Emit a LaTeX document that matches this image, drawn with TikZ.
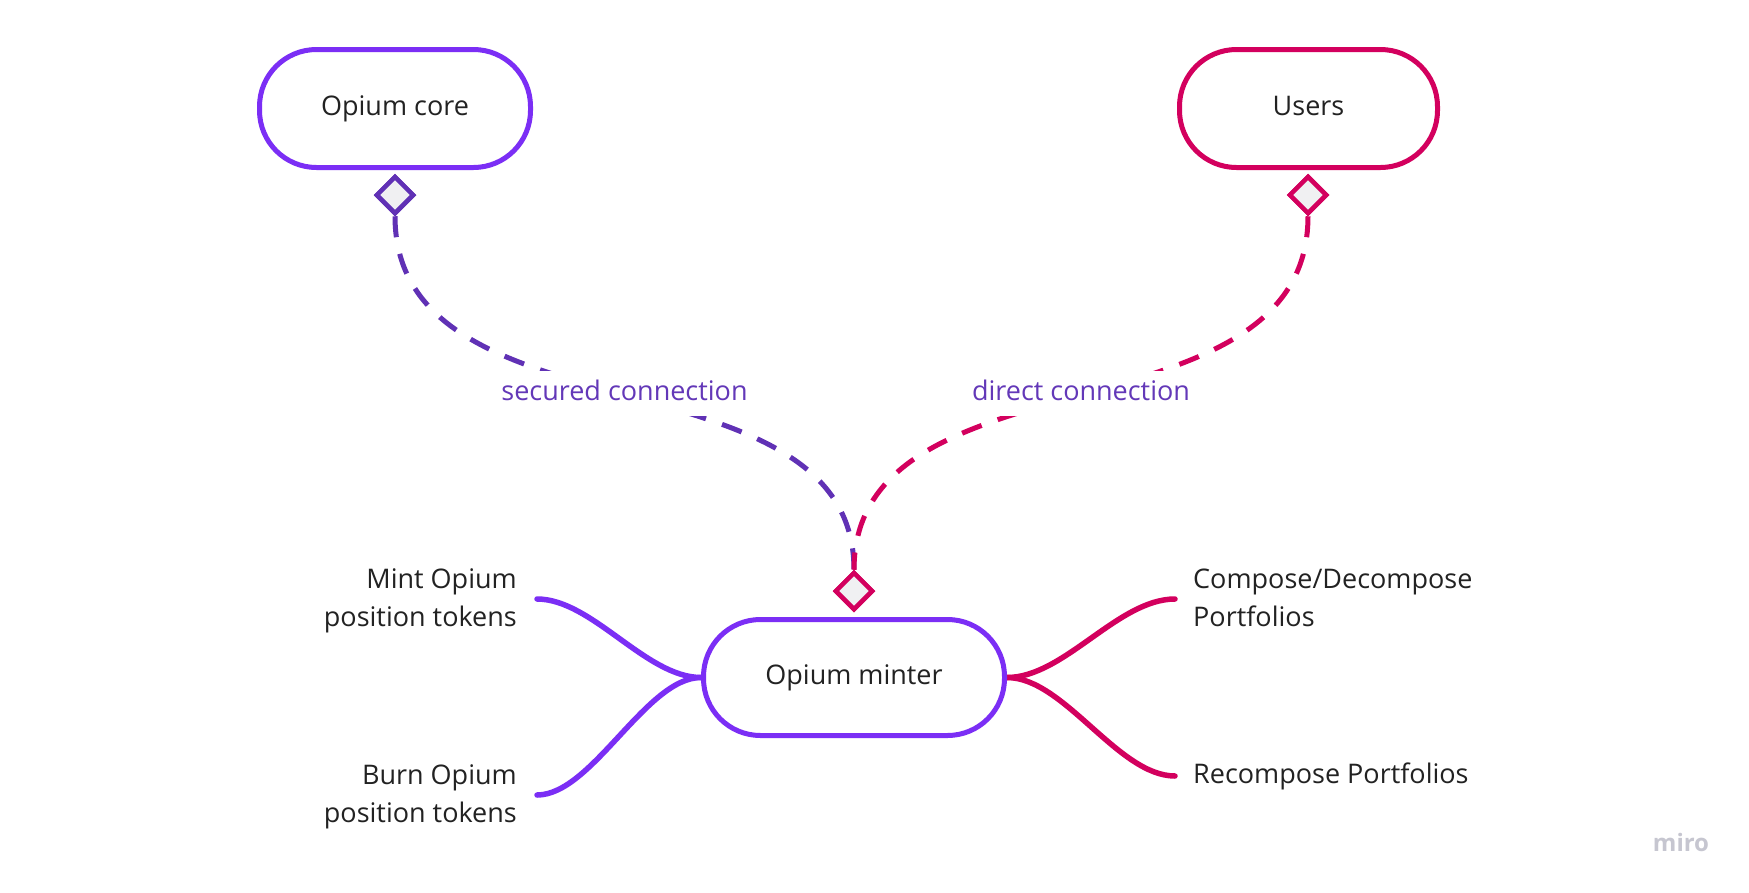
\documentclass[tikz,border=0pt]{standalone}
\usepackage{fontspec}
\setmainfont{Open Sans}
\usetikzlibrary{shapes.geometric}
\definecolor{violet}{HTML}{7B2EF5}
\definecolor{darkviolet}{HTML}{6031B5}
\definecolor{pinkc}{HTML}{D3005E}
\definecolor{labelc}{HTML}{6338B8}
\definecolor{textc}{HTML}{222222}
\definecolor{dfill}{HTML}{F0F0F2}
\definecolor{logoc}{HTML}{C6C6D0}
\tikzset{
  pill/.style={draw, line width=5pt, fill=white, rounded corners=57pt,
    minimum height=118pt, inner sep=0pt, text=textc,
    text height=20.5pt, text depth=6.5pt,
    font=\fontsize{27}{38}\selectfont},
  dmd/.style={diamond, draw, line width=4.5pt, fill=dfill, inner sep=0pt,
    minimum width=38pt, minimum height=38pt},
  dashline/.style={line width=5pt, dash pattern=on 21pt off 17pt},
  lbl/.style={fill=white, inner xsep=6pt, inner ysep=9pt, text=labelc,
    text height=20.5pt, text depth=6.5pt, yshift=1.5pt,
    font=\fontsize{27}{38}\selectfont},
  leaf/.style={inner sep=0pt, text=textc, font=\fontsize{27}{38}\selectfont},
  branch/.style={line width=5.5pt, line cap=round},
}
\begin{document}
\begin{tikzpicture}[x=1pt,y=-1pt]
\useasboundingbox[fill=white] (0,0) rectangle (1749,892);

% diamonds (positions)
\node[dmd, draw=darkviolet] (dcore) at (395,195) {};
\node[dmd, draw=pinkc] (dusers) at (1308,195) {};
\node[dmd, draw=pinkc] (dminter) at (854,591) {};

% dashed connections
\draw[dashline, darkviolet] (dcore.south) .. controls (395,446) and (854,345) .. (dminter.north)
  node[lbl, pos=0.5] (lsec) {secured connection};
\draw[dashline, pinkc] (dusers.south) .. controls (1308,446) and (854,345) .. (dminter.north)
  node[lbl, pos=0.5] (ldir) {direct connection};

% redraw diamonds on top
\node[dmd, draw=darkviolet] at (dcore) {};
\node[dmd, draw=pinkc] at (dusers) {};
\node[dmd, draw=pinkc] at (dminter) {};

% main boxes
\node[pill, draw=violet, minimum width=271pt] (core) at (395,108.5) {Opium core};
\node[pill, draw=pinkc, minimum width=258pt] (users) at (1308.5,108.5) {Users};

% leaf endpoints
\coordinate (emint) at (537,599);
\coordinate (eburn) at (537,795);
\coordinate (ecomp) at (1175,599);
\coordinate (erecomp) at (1175,776);

% branches
\draw[branch, violet] (emint) .. controls +(55,0) and +(-55,0) .. (701,677.5) coordinate (mwest);
\draw[branch, violet] (eburn) .. controls +(55,0) and +(-55,0) .. (mwest);
\draw[branch, pinkc] (ecomp) .. controls +(-57,0) and +(57,0) .. (1007,677.5) coordinate (meast);
\draw[branch, pinkc] (erecomp) .. controls +(-57,0) and +(57,0) .. (meast);

\node[pill, draw=violet, minimum width=301pt, minimum height=116pt] (minter) at (854,677.5) {Opium minter};

% leaf texts (base anchor = baseline of last line)
\node[leaf, anchor=base east, align=right] (mint) at (517,626) {Mint Opium\\position tokens};
\node[leaf, anchor=base east, align=right] (burn) at (517,822) {Burn Opium\\position tokens};
\node[leaf, anchor=base west, align=left] (comp) at (1193,626) {Compose/Decompose\\Portfolios};
\node[leaf, anchor=base west, align=left] (recomp) at (1193,783) {Recompose Portfolios};

% logo
\node[text=logoc, inner sep=0pt, anchor=base, font=\fontsize{24}{28}\selectfont\bfseries] (logo) at (1681,851) {miro};
\end{tikzpicture}
\end{document}
